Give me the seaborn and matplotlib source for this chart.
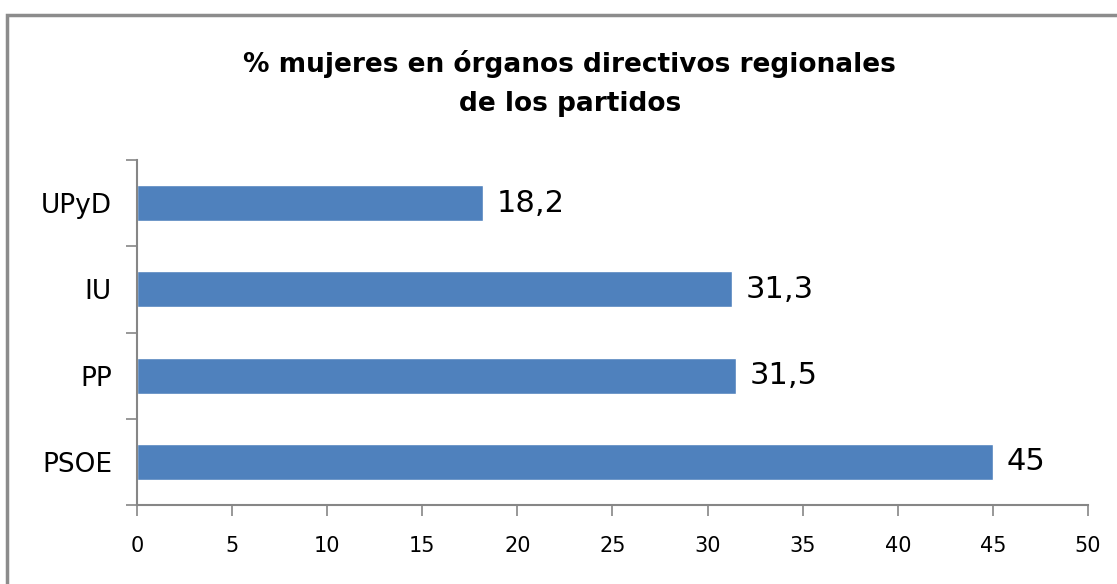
import matplotlib
matplotlib.use("Agg")
import matplotlib.pyplot as plt
import seaborn as sns
import pandas as pd
from matplotlib.patches import Rectangle

# Datos del gráfico (de arriba a abajo)
partidos = ["UPyD", "IU", "PP", "PSOE"]
porcentajes = [18.2, 31.3, 31.5, 45]
xticks = [0, 5, 10, 15, 20, 25, 30, 35, 40, 45, 50]
titulo = "% mujeres en órganos directivos regionales\nde los partidos"

BAR_COLOR = "#4F81BD"
GRIS = "#868686"

df = pd.DataFrame({"partido": partidos, "valor": porcentajes})

sns.set_style("white")
plt.rcParams["font.family"] = ["DejaVu Sans"]
plt.rcParams["text.color"] = "black"
plt.rcParams["xtick.color"] = "black"
plt.rcParams["ytick.color"] = "black"

fig = plt.figure(figsize=(11.17, 5.84), dpi=100)
ax = fig.add_axes([0.1226, 0.1353, 0.974 - 0.1226, 0.726 - 0.1353])

sns.barplot(data=df, x="valor", y="partido", order=partidos, color=BAR_COLOR,
            saturation=1, width=0.42, ax=ax)

# Etiquetas de valor con coma decimal
for i, v in enumerate(porcentajes):
    ax.text(v + 0.7, i, f"{v:g}".replace(".", ","), va="center", ha="left",
            fontsize=22, color="black")

ax.set_xlim(0, 50)
ax.set_ylim(len(partidos) - 0.5, -0.5)
ax.set_xticks(xticks)
ax.set_xticklabels([str(t) for t in xticks], fontsize=15)
ax.set_yticks(range(len(partidos)))
ax.set_yticklabels(partidos, fontsize=19)
ax.set_yticks([i - 0.5 for i in range(len(partidos) + 1)], minor=True)
ax.tick_params(axis="y", which="major", length=0, pad=18, labelcolor="black")
ax.tick_params(axis="y", which="minor", length=8, width=1.2, color=GRIS, direction="out", left=True)
ax.tick_params(axis="x", which="major", length=8, width=1.2, color=GRIS, direction="out",
               bottom=True, pad=14, labelcolor="black")
ax.set_xlabel("")
ax.set_ylabel("")

for s in ["top", "right"]:
    ax.spines[s].set_visible(False)
for s in ["left", "bottom"]:
    ax.spines[s].set_color(GRIS)
    ax.spines[s].set_linewidth(1.5)

fig.text(0.51, 0.857, titulo, ha="center", va="center", fontsize=19,
         fontweight="bold", linespacing=1.65, color="black")

# Marco del gráfico
fig.patches.append(Rectangle((7 / 1117, -0.1), 1.2, 1 - 15 / 584 + 0.1,
                             transform=fig.transFigure, fill=False,
                             edgecolor="#8C8C8C", linewidth=2.5))

plt.savefig("out.png", dpi=100)
plt.close()
